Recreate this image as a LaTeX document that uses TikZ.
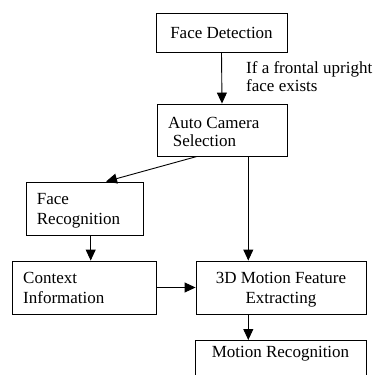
\documentclass[tikz,border=0pt]{standalone}
\usepackage{fontspec}
\setmainfont{Liberation Serif}
\usetikzlibrary{arrows.meta,calc}
\tikzset{
  box/.style={draw, line width=0.9pt, rectangle, inner sep=0pt},
  flow/.style={line width=0.9pt, -{Triangle[length=11pt,width=10pt]}},
  txt/.style={font=\fontsize{17}{20}\selectfont, inner sep=0pt}
}
\begin{document}
\begin{tikzpicture}[x=1pt,y=-1pt]
  \useasboundingbox (0,0) rectangle (375,375);
  \clip (0,0) rectangle (375,375);

  % process boxes (text anchored on the baseline of its last line)
  \node[box, minimum width=131pt, minimum height=39pt] (fd) at (221.5,32.5) {};
  \node[txt] (fdt) at (fd.center) {Face Detection};

  \node[box, minimum width=130pt, minimum height=52pt] (ac) at (222,130) {};
  \node[txt, anchor=base west, align=left, font=\fontsize{17}{18}\selectfont] (act) at (168,146.7)
    {Auto Camera\\\hspace*{4.7pt}Selection};

  \node[box, minimum width=117pt, minimum height=53pt] (fr) at (84.5,208.5) {};
  \node[txt, anchor=base west, align=left] (frt) at (36.7,224) {Face\\Recognition};

  \node[box, minimum width=144pt, minimum height=53pt] (ci) at (84,287.5) {};
  \node[txt, anchor=base west, align=left] (cit) at (23,303.3) {Context\\Information};

  \node[box, minimum width=170pt, minimum height=53pt] (td) at (281,287.5) {};
  \node[txt, anchor=base, align=center] (tdt) at (281,303.3) {3D Motion Feature\\Extracting};

  \node[box, minimum width=171pt, minimum height=52pt, anchor=north] (mr) at (280.5,340) {};
  \node[txt, anchor=base] (mrt) at (280.5,357) {Motion Recognition};

  % condition label
  \node[txt, anchor=base west, align=left, font=\fontsize{17}{17.7}\selectfont] (cond) at (246,91)
    {If a frontal upright\\face exists};

  % connectors
  \draw[flow] (fd.south) -- (ac.north);
  \draw[flow] ([xshift=-25pt]ac.south) -- ([xshift=21.5pt]fr.north);
  \draw[flow] ([xshift=26.3pt]ac.south) -- ([xshift=26.3pt]ac.south |- td.north);
  \draw[flow] ([xshift=6.2pt]fr.south) -- ([xshift=6.2pt]fr.south |- ci.north);
  \draw[flow] (ci.east) -- (td.west);
  \draw[flow] ([xshift=-32.7pt]td.south) -- ([xshift=-32.7pt]td.south |- mr.north);
\end{tikzpicture}
\end{document}
